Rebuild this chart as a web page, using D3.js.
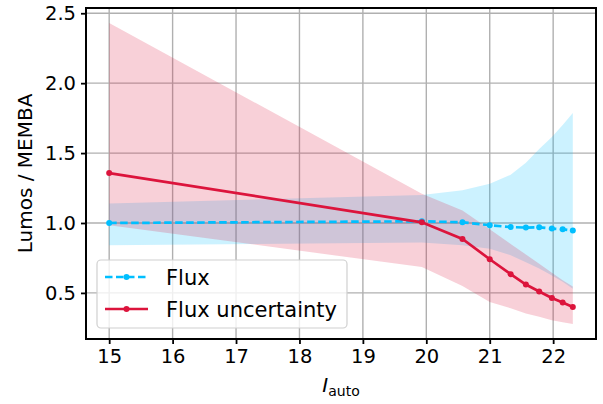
<!DOCTYPE html>
<html><head><meta charset="utf-8">
<script src="https://cdn.jsdelivr.net/npm/d3@7"></script>
<style>
body{margin:0;background:#fff;}
svg{display:block;font-family:"DejaVu Sans",sans-serif;}
</style></head>
<body><svg id="c" width="603" height="404"></svg>
<script>
const mag = [15, 19.93, 20.57, 21.0, 21.33, 21.57, 21.78, 21.98, 22.15, 22.31];
const flux = [1.00, 1.012, 1.005, 0.984, 0.971, 0.967, 0.969, 0.96, 0.955, 0.946];
const fluxLow = [0.84, 0.86, 0.84, 0.815, 0.77, 0.72, 0.675, 0.625, 0.58, 0.53];
const fluxHigh = [1.14, 1.20, 1.234, 1.28, 1.345, 1.43, 1.53, 1.615, 1.70, 1.786];
const unc = [1.357, 1.005, 0.886, 0.741, 0.634, 0.56, 0.51, 0.464, 0.431, 0.40];
const uncLow = [0.984, 0.685, 0.55, 0.435, 0.39, 0.353, 0.33, 0.305, 0.29, 0.278];
const uncHigh = [2.43, 1.21, 1.09, 0.955, 0.85, 0.774, 0.708, 0.645, 0.59, 0.545];
const xTicks = [15, 16, 17, 18, 19, 20, 21, 22];
const yTicks = [0.5, 1.0, 1.5, 2.0, 2.5];
const labels = ["Flux", "Flux uncertainty"];

const svg = d3.select("#c");
const L = 86, R = 596, T = 8, B = 339;
const blue = "#00bfff", red = "#dc143c";

const xmin = d3.min(mag), xmax = d3.max(mag), xp = (xmax - xmin) * 0.05;
const allY = [].concat(fluxLow, fluxHigh, uncLow, uncHigh);
const ymin = d3.min(allY), ymax = d3.max(allY), yp = (ymax - ymin) * 0.05;
const x = d3.scaleLinear().domain([xmin - xp, xmax + xp]).range([L, R]);
const y = d3.scaleLinear().domain([ymin - yp, ymax + yp]).range([B, T]);

// grid
const g = svg.append("g");
g.selectAll(".gx").data(xTicks).join("line")
  .attr("x1", d => x(d)).attr("x2", d => x(d)).attr("y1", T).attr("y2", B)
  .attr("stroke", "#b0b0b0").attr("stroke-width", 1.4);
g.selectAll(".gy").data(yTicks).join("line")
  .attr("y1", d => y(d)).attr("y2", d => y(d)).attr("x1", L).attr("x2", R)
  .attr("stroke", "#b0b0b0").attr("stroke-width", 1.4);

const idx = d3.range(mag.length);
const areaF = d3.area().x(i => x(mag[i])).y0(i => y(fluxLow[i])).y1(i => y(fluxHigh[i]));
const areaU = d3.area().x(i => x(mag[i])).y0(i => y(uncLow[i])).y1(i => y(uncHigh[i]));
svg.append("path").attr("d", areaF(idx)).attr("fill", blue).attr("fill-opacity", 0.2);
svg.append("path").attr("d", areaU(idx)).attr("fill", red).attr("fill-opacity", 0.2);

const lineF = d3.line().x(i => x(mag[i])).y(i => y(flux[i]));
const lineU = d3.line().x(i => x(mag[i])).y(i => y(unc[i]));
svg.append("path").attr("d", lineF(idx)).attr("fill", "none").attr("stroke", blue)
  .attr("stroke-width", 2.7).attr("stroke-dasharray", "7.5,3.5");
svg.append("g").selectAll("circle").data(idx).join("circle")
  .attr("cx", i => x(mag[i])).attr("cy", i => y(flux[i])).attr("r", 3).attr("fill", blue);
svg.append("path").attr("d", lineU(idx)).attr("fill", "none").attr("stroke", red)
  .attr("stroke-width", 2.7);
svg.append("g").selectAll("circle").data(idx).join("circle")
  .attr("cx", i => x(mag[i])).attr("cy", i => y(unc[i])).attr("r", 3).attr("fill", red);

// axes
const xa = svg.append("g").attr("transform", `translate(0,${B})`)
  .call(d3.axisBottom(x).tickValues(xTicks).tickFormat(d3.format("d")).tickSize(5).tickPadding(5));
const ya = svg.append("g").attr("transform", `translate(${L},0)`)
  .call(d3.axisLeft(y).tickValues(yTicks).tickFormat(d3.format(".1f")).tickSize(5).tickPadding(5));
[xa, ya].forEach(a => {
  a.select(".domain").remove();
  a.selectAll("line").attr("stroke", "#000").attr("stroke-width", 1.8);
  a.selectAll("text").attr("font-size", 19.5).attr("fill", "#000").attr("font-family", "DejaVu Sans");
});
svg.append("rect").attr("x", L).attr("y", T).attr("width", R - L).attr("height", B - T)
  .attr("fill", "none").attr("stroke", "#000").attr("stroke-width", 2);

// labels
svg.append("text").attr("transform", `translate(32,${(T + B) / 2}) rotate(-90)`)
  .attr("text-anchor", "middle").attr("font-size", 20).text("Lumos / MEMBA");
const xl = svg.append("text").attr("x", (L + R) / 2).attr("y", 392).attr("text-anchor", "middle").attr("font-size", 20);
xl.append("tspan").attr("font-style", "italic").text("I");
xl.append("tspan").attr("font-size", 14).attr("dy", 4).text("auto");

// legend
const lg = svg.append("g");
lg.append("rect").attr("x", 97).attr("y", 260).attr("width", 250).attr("height", 68).attr("rx", 4)
  .attr("fill", "#fff").attr("fill-opacity", 0.8).attr("stroke", "#d0d0d0").attr("stroke-width", 1.2);
const rows = [{c: blue, dash: "7.5,3.5", yy: 277}, {c: red, dash: null, yy: 309}];
rows.forEach((r, k) => {
  lg.append("line").attr("x1", 105).attr("x2", 148).attr("y1", r.yy).attr("y2", r.yy)
    .attr("stroke", r.c).attr("stroke-width", 2.7).attr("stroke-dasharray", r.dash);
  lg.append("circle").attr("cx", 126.5).attr("cy", r.yy).attr("r", 3).attr("fill", r.c);
  lg.append("text").attr("x", 166).attr("y", r.yy + 7.5).attr("font-size", 21).text(labels[k]);
});
</script></body></html>
